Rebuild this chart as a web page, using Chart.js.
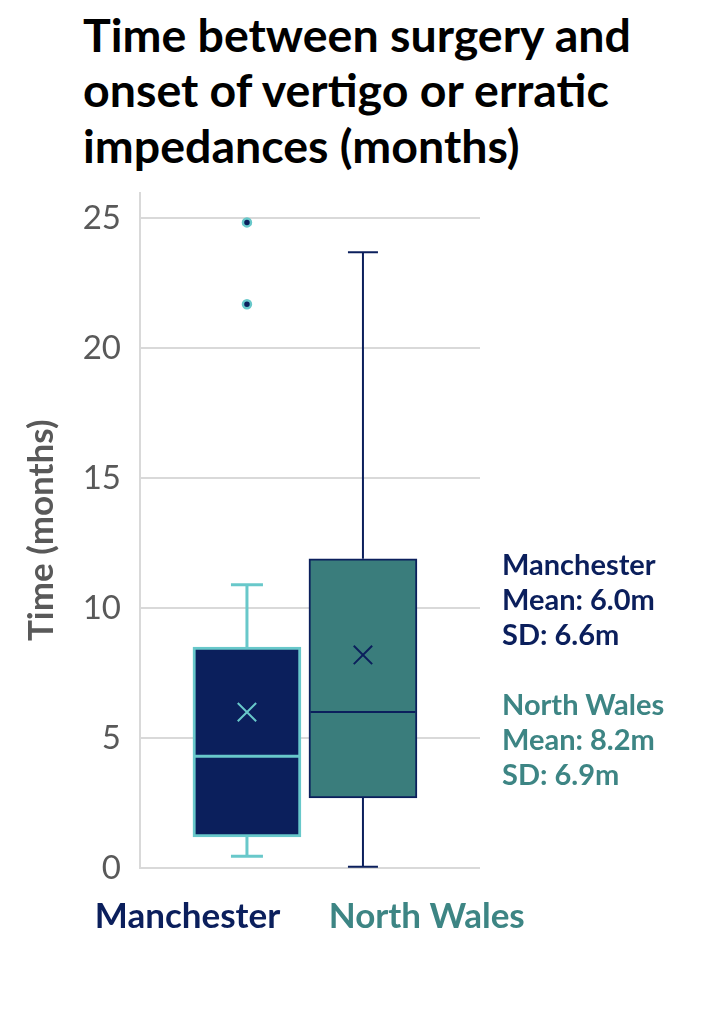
<!DOCTYPE html>
<html>
<head>
<meta charset="utf-8">
<title>Time between surgery and onset of vertigo</title>
<script src="https://cdn.jsdelivr.net/npm/chart.js@4.4.1/dist/chart.umd.min.js"></script>
<style>
  html, body { margin: 0; padding: 0; background: #fff; }
  body { width: 718px; height: 1009px; position: relative; overflow: hidden; font-family: Lato, "Open Sans", sans-serif; }
  h1 { position: absolute; left: 83px; top: 7px; margin: 0; font-size: 46.5px; line-height: 55.3px; font-weight: 700; color: #000; white-space: nowrap; }
  #chart-wrap { position: absolute; left: 0; top: 137px; width: 602px; height: 807px; }
  #stats { position: absolute; left: 502px; top: 546px; font-size: 29px; line-height: 35px; font-weight: 700; }
  #stats p { margin: 0 0 35px 0; }
</style>
</head>
<body>
<h1>Time between surgery and<br>onset of vertigo or erratic<br>impedances (months)</h1>
<div id="chart-wrap"><canvas id="chart"></canvas></div>
<div id="stats"></div>
<script>
// box plot summary per site (months)
const categories = ['Manchester', 'North Wales'];
const q1 = [1.2, 2.7];
const q3 = [8.5, 11.9];
const medians = [4.3, 6.0];
const means = [6.0, 8.2];
const sds = [6.6, 6.9];
const whiskerLow = [0.45, 0.05];
const whiskerHigh = [10.9, 23.7];
const outliers = [[24.85, 21.7], []];
const yTicks = [0, 5, 10, 15, 20, 25];

const navy = '#0b1f5c';
const boxFill = ['#0b1f5c', '#3a7d7c'];
const lineColors = ['#68c8ca', '#0b1f5c'];
const lineWidths = [3, 2];
const textColors = ['#0b1f5c', '#3d8584'];

// stats block on the right
document.getElementById('stats').innerHTML = categories.map((c, i) =>
  `<p style="color:${textColors[i]}">${c}<br>Mean: ${means[i].toFixed(1)}m<br>SD: ${sds[i].toFixed(1)}m</p>`
).join('');

const datasets = [];

datasets.push({
  type: 'line', label: 'Mean', order: 0, showLine: false,
  data: categories.map((c, i) => ({ x: i, y: means[i] })),
  pointStyle: 'crossRot', pointRadius: 13, pointBorderWidth: 2,
  pointBorderColor: lineColors
});

datasets.push({
  type: 'line', label: 'Outliers', order: 0, showLine: false,
  data: outliers.flatMap((vals, i) => vals.map(v => ({ x: i, y: v }))),
  pointStyle: 'circle', pointRadius: 4, pointBorderWidth: 2.5,
  pointBackgroundColor: navy, pointBorderColor: lineColors[0]
});

datasets.push({
  type: 'line', label: 'Median', order: 1, showLine: false,
  data: categories.map((c, i) => ({ x: i, y: medians[i] })),
  pointStyle: 'line', pointRadius: 52.5, pointBorderWidth: lineWidths,
  pointBorderColor: lineColors
});

datasets.push({
  type: 'bar', label: 'Box', order: 2,
  data: categories.map((c, i) => ({ x: i, y: [q1[i], q3[i]] })),
  backgroundColor: boxFill, borderColor: lineColors, borderWidth: lineWidths,
  borderSkipped: false, barThickness: 108, grouped: false
});

// whiskers: one short vertical line per side, cap drawn as a 'line' point
categories.forEach((c, i) => {
  const capR = i === 0 ? 16 : 15;
  datasets.push({
    type: 'line', label: 'Whisker', order: 3,
    data: [{ x: i, y: whiskerLow[i] }, { x: i, y: q1[i] }],
    borderColor: lineColors[i], borderWidth: lineWidths[i],
    pointStyle: 'line', pointRadius: [capR, 0],
    pointBorderColor: lineColors[i], pointBorderWidth: lineWidths[i]
  });
  datasets.push({
    type: 'line', label: 'Whisker', order: 3,
    data: [{ x: i, y: q3[i] }, { x: i, y: whiskerHigh[i] }],
    borderColor: lineColors[i], borderWidth: lineWidths[i],
    pointStyle: 'line', pointRadius: [0, capR],
    pointBorderColor: lineColors[i], pointBorderWidth: lineWidths[i]
  });
});

new Chart(document.getElementById('chart'), {
  type: 'bar',
  data: { datasets },
  options: {
    responsive: true,
    maintainAspectRatio: false,
    animation: false,
    events: [],
    layout: { padding: { top: 10, left: 0, right: 0, bottom: 0 } },
    plugins: {
      tooltip: { enabled: false },
      legend: {
        position: 'bottom',
        labels: {
          boxWidth: 0,
          padding: 31,
          font: { family: 'Lato', size: 35, weight: 'bold' },
          generateLabels: () => categories.map((c, i) => ({
            text: c,
            fontColor: textColors[i],
            fillStyle: 'rgba(0,0,0,0)',
            strokeStyle: 'rgba(0,0,0,0)',
            lineWidth: 0,
            hidden: false,
            datasetIndex: 3
          }))
        }
      }
    },
    scales: {
      x: {
        type: 'linear',
        min: -0.922,
        max: 2.009,
        offset: false,
        display: false
      },
      y: {
        min: 0,
        max: 26,
        afterBuildTicks: (axis) => { axis.ticks = yTicks.map(v => ({ value: v })); },
        afterFit: (scale) => { scale.width = 140; },
        grid: { color: '#d9d9d9', lineWidth: 2, drawTicks: false },
        border: { display: true, color: '#d9d9d9', width: 2 },
        ticks: { padding: 19, color: '#595959', font: { family: 'Lato', size: 33 } },
        title: {
          display: true,
          text: 'Time (months)',
          color: '#595959',
          padding: { top: 21, bottom: 0 },
          font: { family: 'Lato', size: 35, weight: 'bold' }
        }
      },
      // empty right-hand box so the legend centres under the plot
      y2: {
        position: 'right',
        display: true,
        afterFit: (scale) => { scale.width = 122; },
        grid: { display: false },
        border: { display: false },
        ticks: { display: false }
      }
    }
  }
});
</script>
</body>
</html>
